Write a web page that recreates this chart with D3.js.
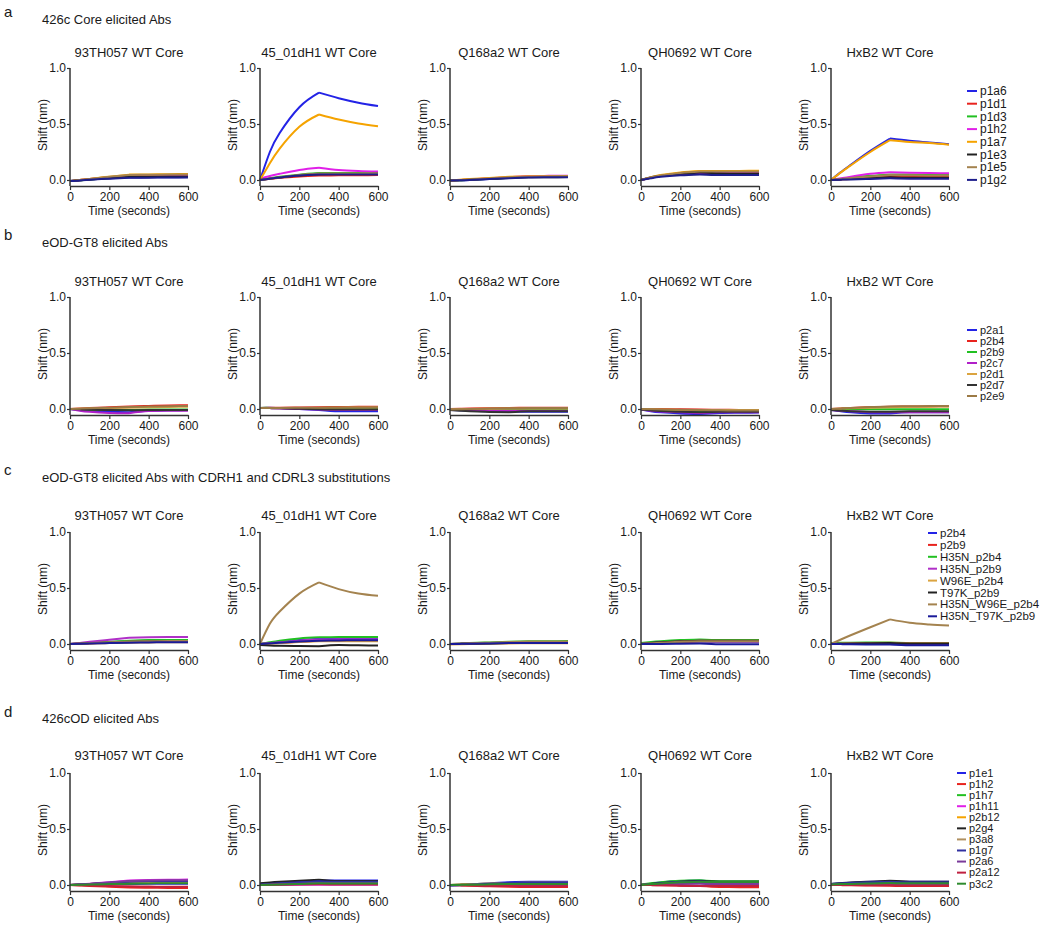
<!DOCTYPE html>
<html><head><meta charset="utf-8">
<script src="https://cdn.jsdelivr.net/npm/d3@7/dist/d3.min.js"></script>
<style>
body{margin:0;background:#fff;}
text{font-family:"Liberation Sans",Arial,Helvetica,sans-serif;fill:#1a1a1a;}
</style></head><body>
<script>
// ---------- data ----------
const timePoints = [0, 50, 100, 200, 300, 400, 500, 600];
const xTicks = [0, 200, 400, 600];
const yTicks = [0, 0.5, 1.0];
const panelTitles = ["93TH057 WT Core", "45_01dH1 WT Core", "Q168a2 WT Core", "QH0692 WT Core", "HxB2 WT Core"];
const rowLetters = ["a", "b", "c", "d"];
const rowTitles = ["426c Core elicited Abs", "eOD-GT8 elicited Abs", "eOD-GT8 elicited Abs with CDRH1 and CDRL3 substitutions", "426cOD elicited Abs"];

const seriesA = ["p1a6", "p1d1", "p1d3", "p1h2", "p1a7", "p1e3", "p1e5", "p1g2"];
const colorsA = ["#2323e6", "#e8231e", "#22c022", "#e020e8", "#f5a300", "#222222", "#a4834f", "#1e1e8c"];
const seriesB = ["p2a1", "p2b4", "p2b9", "p2c7", "p2d1", "p2d7", "p2e9"];
const colorsB = ["#2323e6", "#e8231e", "#22c022", "#b020c8", "#dba440", "#333333", "#9c7a45"];
const seriesC = ["p2b4", "p2b9", "H35N_p2b4", "H35N_p2b9", "W96E_p2b4", "T97K_p2b9", "H35N_W96E_p2b4", "H35N_T97K_p2b9"];
const colorsC = ["#2323e6", "#e8231e", "#22c022", "#b030c8", "#dba440", "#222222", "#a4834f", "#1a1a99"];
const seriesD = ["p1e1", "p1h2", "p1h7", "p1h11", "p2b12", "p2g4", "p3a8", "p1g7", "p2a6", "p2a12", "p3c2"];
const colorsD = ["#2323e6", "#e8231e", "#22c022", "#e020e8", "#f5a300", "#222222", "#b09060", "#3030a0", "#7a3a9a", "#c02040", "#2e8b2e"];

// row a
const a_93TH057 = [
  [-0.01, -0.002, 0.005, 0.015, 0.022, 0.024, 0.025, 0.026],
  [-0.01, 0.0, 0.01, 0.025, 0.04, 0.042, 0.043, 0.044],
  [-0.01, -0.003, 0.004, 0.018, 0.03, 0.032, 0.033, 0.034],
  [-0.01, -0.002, 0.006, 0.02, 0.035, 0.038, 0.04, 0.04],
  [-0.01, 0.0, 0.01, 0.03, 0.048, 0.05, 0.052, 0.053],
  [-0.01, -0.003, 0.004, 0.016, 0.028, 0.03, 0.031, 0.032],
  [-0.01, 0.0, 0.01, 0.028, 0.045, 0.047, 0.048, 0.05],
  [-0.01, -0.004, 0.003, 0.012, 0.02, 0.021, 0.022, 0.022]];
const a_45_01dH1 = [
  [0.0, 0.25, 0.42, 0.65, 0.78, 0.73, 0.69, 0.66],
  [0.0, 0.01, 0.02, 0.032, 0.04, 0.042, 0.043, 0.044],
  [0.0, 0.015, 0.028, 0.048, 0.062, 0.063, 0.063, 0.063],
  [0.01, 0.035, 0.055, 0.09, 0.11, 0.09, 0.08, 0.075],
  [0.0, 0.15, 0.28, 0.475, 0.585, 0.54, 0.505, 0.48],
  [0.0, 0.012, 0.022, 0.04, 0.052, 0.053, 0.054, 0.055],
  [0.0, 0.013, 0.025, 0.045, 0.058, 0.058, 0.058, 0.058],
  [0.0, 0.012, 0.023, 0.04, 0.05, 0.05, 0.05, 0.05]];
const a_Q168a2 = [
  [-0.005, -0.003, 0.0, 0.01, 0.02, 0.028, 0.03, 0.03],
  [-0.005, 0.0, 0.004, 0.012, 0.022, 0.028, 0.03, 0.031],
  [-0.005, -0.002, 0.002, 0.01, 0.02, 0.026, 0.028, 0.028],
  [-0.005, 0.0, 0.005, 0.015, 0.025, 0.035, 0.037, 0.038],
  [-0.005, 0.002, 0.008, 0.018, 0.028, 0.033, 0.034, 0.035],
  [-0.005, -0.002, 0.002, 0.01, 0.018, 0.024, 0.025, 0.026],
  [-0.005, 0.0, 0.005, 0.014, 0.024, 0.03, 0.032, 0.033],
  [-0.005, -0.003, 0.0, 0.008, 0.016, 0.022, 0.024, 0.025]];
const a_QH0692 = [
  [0.0, 0.025, 0.04, 0.052, 0.058, 0.06, 0.06, 0.06],
  [0.0, 0.02, 0.035, 0.055, 0.065, 0.066, 0.067, 0.068],
  [0.0, 0.022, 0.038, 0.058, 0.07, 0.07, 0.071, 0.072],
  [0.0, 0.02, 0.035, 0.055, 0.065, 0.065, 0.066, 0.066],
  [0.0, 0.025, 0.045, 0.068, 0.08, 0.08, 0.081, 0.082],
  [0.0, 0.02, 0.035, 0.055, 0.068, 0.06, 0.058, 0.058],
  [0.0, 0.022, 0.04, 0.062, 0.075, 0.075, 0.076, 0.077],
  [0.0, 0.015, 0.028, 0.042, 0.05, 0.045, 0.044, 0.044]];
const a_HxB2 = [
  [0.0, 0.07, 0.135, 0.26, 0.37, 0.35, 0.335, 0.32],
  [0.0, 0.005, 0.01, 0.02, 0.03, 0.03, 0.03, 0.03],
  [0.0, 0.01, 0.02, 0.037, 0.05, 0.048, 0.047, 0.046],
  [0.0, 0.015, 0.03, 0.055, 0.07, 0.065, 0.062, 0.06],
  [0.0, 0.068, 0.13, 0.25, 0.355, 0.34, 0.33, 0.315],
  [0.0, 0.005, 0.01, 0.018, 0.025, 0.02, 0.02, 0.02],
  [0.0, 0.01, 0.018, 0.032, 0.045, 0.042, 0.04, 0.04],
  [0.0, 0.003, 0.005, 0.01, 0.015, 0.012, 0.012, 0.012]];

// row b
const b_93TH057 = [
  [0.0, -0.01, -0.018, -0.025, -0.028, -0.015, -0.012, -0.01],
  [0.0, 0.004, 0.008, 0.015, 0.022, 0.027, 0.031, 0.034],
  [0.0, -0.004, -0.007, -0.01, -0.01, -0.005, -0.004, -0.004],
  [0.0, -0.015, -0.025, -0.035, -0.038, -0.018, -0.016, -0.015],
  [0.0, 0.002, 0.004, 0.008, 0.012, 0.016, 0.018, 0.02],
  [0.0, -0.003, -0.006, -0.01, -0.012, -0.01, -0.01, -0.01],
  [0.0, 0.003, 0.006, 0.012, 0.018, 0.022, 0.025, 0.027]];
const b_45_01dH1 = [
  [0.01, 0.012, 0.008, 0.0, -0.008, -0.02, -0.02, -0.02],
  [0.01, 0.011, 0.012, 0.014, 0.016, 0.018, 0.019, 0.02],
  [0.01, 0.01, 0.008, 0.005, 0.002, 0.002, 0.002, 0.002],
  [0.01, 0.008, 0.005, 0.0, -0.005, -0.01, -0.01, -0.01],
  [0.01, 0.01, 0.01, 0.01, 0.01, 0.012, 0.013, 0.014],
  [0.01, 0.008, 0.006, 0.002, -0.002, -0.005, -0.005, -0.005],
  [0.01, 0.01, 0.01, 0.011, 0.012, 0.013, 0.014, 0.015]];
const b_Q168a2 = [
  [-0.01, -0.012, -0.015, -0.02, -0.022, -0.025, -0.025, -0.025],
  [0.0, 0.002, 0.004, 0.007, 0.01, 0.011, 0.012, 0.012],
  [-0.005, -0.006, -0.007, -0.008, -0.01, -0.01, -0.01, -0.01],
  [-0.005, -0.008, -0.01, -0.014, -0.016, -0.016, -0.016, -0.016],
  [-0.005, -0.003, -0.001, 0.002, 0.004, 0.005, 0.005, 0.005],
  [-0.01, -0.015, -0.02, -0.026, -0.03, -0.02, -0.02, -0.02],
  [-0.005, -0.003, 0.0, 0.004, 0.007, 0.008, 0.008, 0.008]];
const b_QH0692 = [
  [-0.005, -0.02, -0.03, -0.04, -0.045, -0.035, -0.033, -0.032],
  [0.0, 0.0, -0.001, -0.003, -0.005, -0.007, -0.008, -0.009],
  [-0.005, -0.01, -0.013, -0.018, -0.02, -0.02, -0.02, -0.02],
  [-0.005, -0.015, -0.022, -0.03, -0.035, -0.03, -0.03, -0.03],
  [0.0, -0.002, -0.004, -0.008, -0.01, -0.01, -0.01, -0.01],
  [-0.005, -0.012, -0.018, -0.025, -0.03, -0.025, -0.025, -0.025],
  [0.0, -0.002, -0.004, -0.007, -0.01, -0.012, -0.013, -0.013]];
const b_HxB2 = [
  [-0.01, -0.02, -0.03, -0.04, -0.04, -0.03, -0.03, -0.03],
  [0.0, 0.005, 0.01, 0.016, 0.02, 0.022, 0.023, 0.024],
  [0.0, 0.0, -0.001, -0.002, -0.002, -0.002, -0.002, -0.002],
  [-0.01, -0.015, -0.02, -0.028, -0.03, -0.028, -0.028, -0.028],
  [0.0, 0.003, 0.006, 0.012, 0.016, 0.02, 0.021, 0.022],
  [-0.01, -0.015, -0.02, -0.025, -0.025, -0.02, -0.02, -0.02],
  [0.0, 0.005, 0.01, 0.018, 0.023, 0.025, 0.026, 0.026]];

// row c
const c_93TH057 = [
  [0.0, 0.004, 0.008, 0.016, 0.025, 0.03, 0.03, 0.03],
  [0.0, 0.003, 0.006, 0.012, 0.018, 0.02, 0.02, 0.02],
  [0.0, 0.005, 0.01, 0.02, 0.03, 0.035, 0.035, 0.036],
  [0.0, 0.01, 0.02, 0.038, 0.055, 0.06, 0.062, 0.062],
  [0.0, 0.002, 0.004, 0.008, 0.012, 0.014, 0.015, 0.015],
  [0.0, 0.003, 0.006, 0.012, 0.02, 0.025, 0.025, 0.025],
  [0.0, 0.004, 0.008, 0.015, 0.022, 0.025, 0.026, 0.026],
  [0.0, 0.002, 0.004, 0.008, 0.012, 0.014, 0.015, 0.015]];
const c_45_01dH1 = [
  [0.0, 0.01, 0.02, 0.035, 0.048, 0.05, 0.05, 0.05],
  [0.0, 0.005, 0.01, 0.02, 0.028, 0.03, 0.03, 0.03],
  [0.0, 0.015, 0.03, 0.05, 0.06, 0.062, 0.063, 0.063],
  [0.0, 0.008, 0.016, 0.03, 0.04, 0.042, 0.043, 0.043],
  [0.0, 0.005, 0.01, 0.018, 0.025, 0.025, 0.025, 0.025],
  [-0.01, -0.014, -0.016, -0.018, -0.02, -0.01, -0.012, -0.013],
  [0.0, 0.18, 0.29, 0.45, 0.55, 0.49, 0.45, 0.43],
  [0.0, 0.006, 0.012, 0.022, 0.03, 0.032, 0.033, 0.033]];
const c_Q168a2 = [
  [0.0, 0.002, 0.004, 0.008, 0.012, 0.015, 0.016, 0.016],
  [0.0, 0.002, 0.004, 0.008, 0.012, 0.016, 0.017, 0.018],
  [0.0, 0.004, 0.008, 0.014, 0.02, 0.024, 0.025, 0.026],
  [0.0, 0.002, 0.004, 0.008, 0.012, 0.014, 0.015, 0.015],
  [-0.005, -0.003, -0.001, 0.002, 0.005, 0.006, 0.006, 0.006],
  [0.0, 0.001, 0.002, 0.005, 0.008, 0.01, 0.01, 0.01],
  [0.0, 0.003, 0.006, 0.012, 0.018, 0.022, 0.023, 0.023],
  [0.0, 0.001, 0.002, 0.005, 0.008, 0.01, 0.01, 0.01]];
const c_QH0692 = [
  [0.0, 0.005, 0.01, 0.018, 0.022, 0.02, 0.02, 0.02],
  [0.0, 0.005, 0.01, 0.02, 0.025, 0.025, 0.025, 0.025],
  [0.01, 0.018, 0.025, 0.035, 0.04, 0.035, 0.035, 0.035],
  [0.0, 0.008, 0.014, 0.022, 0.028, 0.025, 0.025, 0.025],
  [0.0, 0.006, 0.012, 0.022, 0.028, 0.028, 0.028, 0.028],
  [0.0, 0.008, 0.015, 0.025, 0.03, 0.03, 0.03, 0.03],
  [0.0, 0.006, 0.012, 0.02, 0.025, 0.025, 0.025, 0.025],
  [0.0, 0.0, 0.0, 0.002, 0.004, -0.002, -0.002, -0.002]];
const c_HxB2 = [
  [0.0, 0.0, 0.0, 0.0, 0.0, -0.005, -0.005, -0.005],
  [0.0, 0.002, 0.003, 0.005, 0.006, 0.004, 0.004, 0.004],
  [0.01, 0.011, 0.012, 0.013, 0.014, 0.01, 0.01, 0.01],
  [0.0, 0.002, 0.004, 0.007, 0.01, 0.008, 0.008, 0.008],
  [0.0, 0.003, 0.006, 0.01, 0.012, 0.01, 0.01, 0.01],
  [0.0, 0.002, 0.004, 0.006, 0.008, 0.005, 0.005, 0.005],
  [0.0, 0.04, 0.078, 0.15, 0.22, 0.19, 0.175, 0.165],
  [0.0, -0.001, -0.002, -0.004, -0.005, -0.012, -0.012, -0.012]];

// row d
const d_93TH057 = [
  [0.0, 0.0, 0.002, 0.006, 0.01, 0.012, 0.012, 0.012],
  [0.0, -0.004, -0.008, -0.015, -0.022, -0.025, -0.026, -0.027],
  [0.0, 0.002, 0.004, 0.01, 0.015, 0.018, 0.018, 0.018],
  [0.0, 0.006, 0.012, 0.025, 0.04, 0.045, 0.047, 0.048],
  [0.0, 0.004, 0.008, 0.016, 0.025, 0.028, 0.03, 0.03],
  [0.0, 0.004, 0.009, 0.018, 0.028, 0.032, 0.033, 0.034],
  [0.0, 0.003, 0.006, 0.012, 0.02, 0.022, 0.023, 0.023],
  [0.0, 0.005, 0.01, 0.02, 0.03, 0.035, 0.036, 0.036],
  [0.0, 0.005, 0.01, 0.022, 0.035, 0.04, 0.042, 0.042],
  [0.0, -0.002, -0.004, -0.008, -0.012, -0.014, -0.015, -0.015],
  [0.0, 0.002, 0.004, 0.008, 0.012, 0.014, 0.015, 0.015]];
const d_45_01dH1 = [
  [0.01, 0.016, 0.022, 0.032, 0.04, 0.04, 0.04, 0.04],
  [0.0, 0.002, 0.004, 0.008, 0.012, 0.012, 0.012, 0.012],
  [0.0, 0.002, 0.004, 0.008, 0.012, 0.01, 0.01, 0.01],
  [0.0, 0.0, 0.001, 0.002, 0.003, 0.002, 0.002, 0.002],
  [0.0, 0.004, 0.008, 0.015, 0.02, 0.02, 0.02, 0.02],
  [0.015, 0.022, 0.028, 0.038, 0.048, 0.036, 0.036, 0.036],
  [0.0, 0.005, 0.01, 0.018, 0.025, 0.024, 0.024, 0.024],
  [0.005, 0.01, 0.015, 0.024, 0.032, 0.03, 0.03, 0.03],
  [0.0, 0.003, 0.006, 0.012, 0.018, 0.016, 0.016, 0.016],
  [0.0, 0.001, 0.002, 0.004, 0.006, 0.005, 0.005, 0.005],
  [0.0, 0.002, 0.004, 0.01, 0.015, 0.014, 0.014, 0.014]];
const d_Q168a2 = [
  [-0.005, 0.0, 0.005, 0.015, 0.025, 0.028, 0.028, 0.028],
  [0.0, -0.003, -0.006, -0.012, -0.016, -0.018, -0.018, -0.018],
  [0.0, 0.002, 0.004, 0.008, 0.012, 0.014, 0.014, 0.014],
  [0.0, 0.001, 0.002, 0.004, 0.006, 0.006, 0.006, 0.006],
  [0.0, 0.003, 0.006, 0.012, 0.018, 0.02, 0.02, 0.02],
  [0.0, 0.002, 0.004, 0.009, 0.014, 0.016, 0.016, 0.016],
  [0.0, 0.003, 0.006, 0.012, 0.018, 0.02, 0.02, 0.02],
  [-0.005, -0.002, 0.002, 0.01, 0.02, 0.022, 0.022, 0.022],
  [0.0, 0.0, 0.0, -0.002, -0.004, -0.005, -0.005, -0.005],
  [0.0, -0.002, -0.004, -0.008, -0.01, -0.012, -0.012, -0.012],
  [0.0, 0.001, 0.003, 0.006, 0.01, 0.01, 0.01, 0.01]];
const d_QH0692 = [
  [0.0, 0.012, 0.022, 0.035, 0.04, 0.03, 0.03, 0.03],
  [0.0, 0.0, -0.002, -0.006, -0.01, -0.018, -0.019, -0.02],
  [0.005, 0.015, 0.025, 0.038, 0.042, 0.033, 0.033, 0.033],
  [0.0, 0.004, 0.008, 0.014, 0.018, 0.015, 0.015, 0.015],
  [0.0, 0.006, 0.012, 0.02, 0.024, 0.02, 0.02, 0.02],
  [0.0, 0.01, 0.018, 0.03, 0.035, 0.03, 0.03, 0.03],
  [0.0, 0.006, 0.01, 0.016, 0.02, 0.018, 0.018, 0.018],
  [0.0, 0.008, 0.016, 0.028, 0.032, 0.026, 0.026, 0.026],
  [0.0, 0.003, 0.006, 0.01, 0.012, 0.008, 0.008, 0.008],
  [0.0, -0.001, -0.003, -0.006, -0.008, -0.01, -0.01, -0.01],
  [0.0, 0.008, 0.014, 0.024, 0.03, 0.026, 0.026, 0.026]];
const d_HxB2 = [
  [0.01, 0.015, 0.02, 0.028, 0.033, 0.028, 0.028, 0.028],
  [0.0, -0.001, -0.002, -0.004, -0.006, -0.01, -0.01, -0.01],
  [0.01, 0.012, 0.014, 0.018, 0.02, 0.018, 0.018, 0.018],
  [0.005, 0.006, 0.008, 0.01, 0.012, 0.008, 0.008, 0.008],
  [0.005, 0.008, 0.01, 0.014, 0.016, 0.014, 0.014, 0.014],
  [0.01, 0.016, 0.022, 0.03, 0.037, 0.03, 0.03, 0.03],
  [0.005, 0.008, 0.01, 0.015, 0.018, 0.016, 0.016, 0.016],
  [0.01, 0.014, 0.018, 0.025, 0.03, 0.024, 0.024, 0.024],
  [0.005, 0.006, 0.007, 0.008, 0.01, 0.006, 0.006, 0.006],
  [0.0, 0.0, -0.001, -0.002, -0.003, -0.005, -0.005, -0.005],
  [0.005, 0.008, 0.01, 0.014, 0.018, 0.015, 0.015, 0.015]];

// ---------- layout ----------
const rows = [
  {series: seriesA, colors: colorsA, panels: [a_93TH057, a_45_01dH1, a_Q168a2, a_QH0692, a_HxB2],
   top: 68, letterY: 17, titleY: 24, ptitleY: 57, legX: 967, legY: 91, legStep: 12.7, legLen: 10, legFont: 12},
  {series: seriesB, colors: colorsB, panels: [b_93TH057, b_45_01dH1, b_Q168a2, b_QH0692, b_HxB2],
   top: 297, letterY: 240, titleY: 247, ptitleY: 286, legX: 967, legY: 330, legStep: 11, legLen: 10, legFont: 11},
  {series: seriesC, colors: colorsC, panels: [c_93TH057, c_45_01dH1, c_Q168a2, c_QH0692, c_HxB2],
   top: 532, letterY: 475, titleY: 482, ptitleY: 520, legX: 928, legY: 533, legStep: 11.9, legLen: 9, legFont: 11.5},
  {series: seriesD, colors: colorsD, panels: [d_93TH057, d_45_01dH1, d_Q168a2, d_QH0692, d_HxB2],
   top: 773, letterY: 717, titleY: 723, ptitleY: 760, legX: 957, legY: 773, legStep: 11.07, legLen: 9, legFont: 11}
];
const panelX = [70, 260, 450, 641, 831];
const plotW = 118, unitH = 112;

const svg = d3.select("body").append("svg").attr("width", 1050).attr("height", 928);
svg.append("rect").attr("width", 1050).attr("height", 928).attr("fill", "#fff");

rows.forEach((row, ri) => {
  svg.append("text").attr("x", 4).attr("y", row.letterY).attr("font-size", 15).text(rowLetters[ri]);
  svg.append("text").attr("x", 42).attr("y", row.titleY).attr("font-size", 13).text(rowTitles[ri]);

  row.panels.forEach((pdata, pi) => {
    const x0 = panelX[pi];
    const x = d3.scaleLinear().domain([0, 600]).range([x0, x0 + plotW]);
    const y = d3.scaleLinear().domain([0, 1]).range([row.top + unitH, row.top]);
    const yBottom = y(-0.054);
    const g = svg.append("g");

    g.append("text").attr("x", x0 + plotW / 2).attr("y", row.ptitleY)
      .attr("text-anchor", "middle").attr("font-size", 13).text(panelTitles[pi]);

    // association (0-300 s) and dissociation (300-600 s) drawn as separate smooth segments
    const lineA = d3.line().x(d => x(d[0])).y(d => y(d[1])).curve(d3.curveNatural);
    const lineD = d3.line().x(d => x(d[0])).y(d => y(d[1])).curve(d3.curveMonotoneX);
    pdata.forEach((vals, si) => {
      const pts = timePoints.map((t, k) => [t, vals[k]]);
      const assoc = pts.slice(0, 5), dissoc = pts.slice(4);
      g.append("path").attr("d", lineA(assoc)).attr("fill", "none")
        .attr("stroke", row.colors[si]).attr("stroke-width", 2).attr("stroke-linejoin", "round");
      g.append("path").attr("d", lineD(dissoc)).attr("fill", "none")
        .attr("stroke", row.colors[si]).attr("stroke-width", 2).attr("stroke-linejoin", "round");
    });

    // axes
    const yAx = g.append("g").attr("transform", `translate(${x0},0)`)
      .call(d3.axisLeft(y).tickValues(yTicks).tickFormat(d3.format(".1f")).tickSize(3).tickPadding(1).tickSizeOuter(0));
    yAx.select(".domain").attr("d", `M0,${yBottom}V${y(1)}`);
    const xAx = g.append("g").attr("transform", `translate(0,${yBottom})`)
      .call(d3.axisBottom(x).tickValues(xTicks).tickSize(4).tickPadding(2).tickSizeOuter(0));
    [yAx, xAx].forEach(ax => {
      ax.select(".domain").attr("stroke", "#333").attr("stroke-width", 1.5);
      ax.selectAll(".tick line").attr("stroke", "#333").attr("stroke-width", 1.2);
      ax.selectAll(".tick text").attr("font-size", 12).attr("fill", "#1a1a1a")
        .attr("font-family", "'Liberation Sans', Arial, sans-serif");
    });

    g.append("text").attr("x", x0 + plotW / 2).attr("y", yBottom + 29)
      .attr("text-anchor", "middle").attr("font-size", 12).text("Time (seconds)");
    g.append("text").attr("transform", `translate(${x0 - 27},${row.top + 57}) rotate(-90)`)
      .attr("text-anchor", "middle").attr("dy", "0.35em").attr("font-size", 12).text("Shift (nm)");
  });

  // legend
  const lg = svg.append("g");
  row.series.forEach((name, si) => {
    const yy = row.legY + si * row.legStep;
    lg.append("line").attr("x1", row.legX).attr("x2", row.legX + row.legLen)
      .attr("y1", yy).attr("y2", yy).attr("stroke", row.colors[si]).attr("stroke-width", 2);
    lg.append("text").attr("x", row.legX + row.legLen + 3).attr("y", yy).attr("dy", "0.35em")
      .attr("font-size", row.legFont).text(name);
  });
});
</script>
</body></html>
